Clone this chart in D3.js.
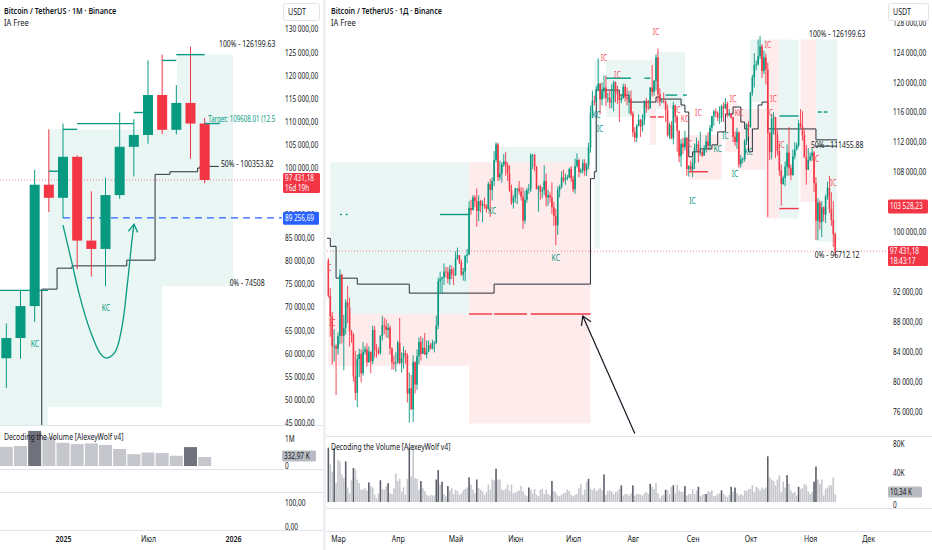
<!DOCTYPE html>
<html>
<head>
<meta charset="utf-8">
<script src="https://cdn.jsdelivr.net/npm/d3@7"></script>
<style>
  body { margin: 0; background: #fff; }
  svg text { font-family: "Noto Sans", "Open Sans", sans-serif; }
</style>
</head>
<body>
<svg id="chart" width="932" height="550"></svg>
<script>
var W = 932, H = 550;
var UP = "#089981", DN = "#f23645", INK = "#131722", GRID = "#e0e3eb";
var UPZONE = "rgba(8,153,129,0.09)", DNZONE = "rgba(242,54,69,0.1)";

// ---------- left chart: BTC/USDT monthly ----------
var monthsL = ["2024-09","2024-10","2024-11","2024-12","2025-01","2025-02","2025-03","2025-04","2025-05","2025-06","2025-07","2025-08","2025-09","2025-10","2025-11"];
var mOpen  = [58970, 63330, 70220, 96410, 93580, 102430, 84350, 82550, 94170, 104590, 107140, 115760, 108250, 114050, 109610];
var mHigh  = [66500, 73620, 99590, 108350, 109590, 102750, 95000, 97900, 111980, 110530, 123220, 124470, 117900, 126200, 110800];
var mLow   = [52550, 58860, 66800, 90500, 89160, 78170, 76600, 74500, 93350, 98200, 105250, 107300, 107270, 102000, 96700];
var mClose = [63330, 70220, 96410, 93580, 102430, 84350, 82550, 94170, 104590, 107140, 115760, 108250, 114050, 109610, 97431.18];
var mVol   = [0.71, 0.74, 1.30, 1.08, 0.86, 0.81, 0.84, 0.78, 0.63, 0.44, 0.50, 0.48, 0.38, 0.70, 0.333]; // millions BTC
var mVolDark = ["2024-11", "2025-10"];

// 95 000 sits under the last-price label, so it is not printed
var priceTicksL = [45000, 50000, 55000, 60000, 65000, 70000, 75000, 80000, 85000, 90000, 100000, 105000, 110000, 115000, 120000, 125000, 130000];
var timeTicksL = ["2025-01", "2025-07", "2026-01"];
var timeLabelsL = ["2025", "Июл", "2026"];

// zones [from month pos, to month pos, top, bottom]
var zonesL = [[-5, -1.06, 73620, 40000], [-1.06, 7, 108350, 48450], [7, 12, 108350, 74508], [8.05, 12, 124470, 108350]];
// previous-high levels [from, to, price]
var levelsL = [[-5, -1.06, 73620], [-1, -0.35, 99310], [0, 1, 108350], [1, 5, 109590], [5, 6, 111980], [7, 8, 123220], [8, 10, 124470], [10, 11, 109608.01]];
// stepped black line [month pos, price]
var stepL = [[-1.5, 30000], [-1.5, 73880], [-0.42, 78400], [0.64, 78900], [4.5, 80130], [6.5, 98640], [7.55, 99200], [9.5, 100000], [9.67, 100353.82], [11, 100353.82]];
// hand-drawn curved arrow [month pos, price]
var arrowL = [[0, 87670], [0.635, 79480], [1.2, 72150], [1.905, 65040], [2.611, 60080], [3.035, 59010], [3.67, 60300], [4.16, 65690], [4.52, 74310], [4.87, 84440], [5.01, 87890]];
var tagsL = [["KC", 3.03, 69784], ["KC", -1.98, 62026]];
var fibL = [[126199.63, "100% - 126199.63"], [100353.82, "50% - 100353.82"], [74508, "0% - 74508"]];
var targetL = [109608.01, "Target: 109608.01 (12.5"]; // cut by the price scale in the reference
var lastL = 97431.18, blueL = 89256.69;

// ---------- right chart: BTC/USDT daily (thousands), from 2025-02-24 ----------
var dayStart = "2025-02-24";
var firstOpen = 96.2;
var dClose = [
  91.5, 88.7, 84.7, 84.7, 84.4,
  86.1, 94.3, 86.1, 87.2, 90.6, 89.9, 86.7, 86.2, 80.7, 78.5, 83.0, 83.7, 81.1, 84.0, 84.3, 82.6, 84.0, 82.7, 86.9, 84.2, 84.1, 83.8, 86.1, 87.5, 87.4, 86.9, 87.2, 84.4, 82.6, 82.4, 82.5,
  85.2, 82.5, 83.1, 83.8, 83.5, 78.4, 79.1, 76.3, 82.6, 79.6, 83.4, 85.3, 83.7, 84.5, 83.6, 84.0, 84.9, 84.4, 85.1, 85.2, 87.5, 93.4, 93.7, 93.9, 94.7, 94.6, 93.7, 95.0, 94.3, 94.2,
  96.5, 96.9, 95.9, 94.3, 94.7, 96.8, 97.0, 103.2, 102.9, 104.6, 104.1, 102.8, 104.1, 103.5, 103.7, 103.5, 103.1, 106.4, 105.6, 106.8, 109.6, 111.7, 107.3, 107.8, 109.0, 109.4, 108.9, 107.8, 105.6, 103.9, 104.6,
  105.8, 105.8, 105.4, 104.7, 101.5, 104.3, 105.6, 105.7, 110.3, 110.3, 108.7, 105.7, 106.1, 105.4, 105.6, 106.8, 104.6, 104.9, 104.6, 103.3, 102.1, 100.9, 105.6, 106.0, 107.3, 106.9, 107.1, 107.3, 108.4, 107.1,
  105.7, 108.8, 109.6, 108.0, 108.2, 109.2, 108.2, 108.9, 111.3, 115.9, 117.5, 117.4, 119.1, 119.8, 117.7, 118.8, 119.3, 117.9, 117.9, 117.3, 117.4, 120.0, 118.8, 118.4, 117.6, 117.9, 119.4, 118.0, 117.8, 117.8, 115.8,
  113.3, 112.6, 114.2, 115.0, 114.1, 115.0, 117.5, 116.6, 116.5, 119.3, 118.7, 120.2, 123.3, 118.4, 117.4, 117.5, 117.4, 116.3, 112.9, 114.3, 112.5, 116.9, 115.4, 113.5, 110.1, 111.8, 111.3, 112.6, 108.4, 108.8, 108.3,
  109.2, 111.3, 111.7, 110.7, 110.7, 110.2, 111.2, 112.1, 111.5, 113.9, 115.5, 116.1, 115.9, 115.3, 115.3, 116.8, 116.5, 117.1, 115.7, 115.7, 115.3, 112.7, 112.0, 113.3, 109.0, 109.7, 109.7, 112.1, 114.4, 114.0,
  118.6, 120.6, 122.3, 122.4, 123.5, 124.8, 121.5, 123.3, 121.7, 113.2, 110.7, 115.1, 115.3, 113.0, 110.8, 108.2, 106.4, 107.2, 108.7, 110.6, 108.5, 107.6, 110.1, 111.0, 111.6, 114.5, 114.1, 112.9, 110.0, 108.3, 109.6,
  110.1, 110.6, 106.5, 101.5, 103.9, 101.3, 103.3, 102.3, 104.7, 105.9, 103.0, 101.6, 99.7, 97.43
];
var dHigh = [
  96.5, 92.5, 89.3, 87.0, 85.0,
  86.6, 95.0, 94.4, 88.9, 91.0, 92.8, 91.2, 86.9, 86.5, 84.1, 83.6, 84.4, 84.3, 85.3, 84.7, 85.1, 84.7, 84.0, 87.5, 87.4, 85.0, 84.6, 86.2, 88.8, 88.5, 88.3, 87.8, 87.5, 84.6, 83.5, 83.9,
  85.5, 88.5, 83.9, 84.7, 84.2, 83.8, 81.2, 80.9, 83.5, 82.7, 84.3, 85.9, 86.1, 85.8, 86.5, 85.5, 85.5, 85.2, 85.6, 85.4, 88.8, 93.9, 94.7, 94.0, 95.8, 95.3, 95.3, 95.6, 95.5, 95.2,
  97.4, 97.9, 96.9, 96.3, 95.2, 96.9, 97.7, 104.1, 104.3, 104.9, 104.9, 105.8, 104.9, 104.3, 104.2, 104.6, 103.7, 106.7, 107.1, 107.3, 110.8, 112.0, 111.9, 109.5, 109.3, 110.4, 110.7, 109.3, 108.9, 106.3, 104.9,
  105.9, 105.9, 106.8, 106.0, 105.9, 105.5, 105.9, 106.4, 110.5, 110.4, 110.4, 108.8, 106.2, 106.3, 106.0, 108.9, 107.8, 105.6, 105.3, 106.6, 104.0, 103.1, 106.1, 106.3, 108.1, 108.3, 107.8, 107.6, 108.6, 108.8,
  107.5, 109.8, 110.5, 109.8, 108.5, 109.7, 109.7, 109.2, 111.9, 116.9, 118.9, 118.2, 119.5, 123.2, 119.9, 120.0, 120.9, 120.9, 118.6, 118.9, 119.7, 120.2, 120.1, 119.5, 118.5, 118.3, 119.8, 119.8, 119.3, 118.8, 118.9,
  116.1, 114.0, 114.4, 115.7, 115.1, 115.7, 117.6, 117.9, 117.6, 119.3, 122.3, 120.3, 123.7, 124.5, 119.2, 117.9, 118.6, 117.6, 117.0, 114.6, 114.8, 117.4, 117.0, 115.6, 113.6, 112.4, 112.6, 113.5, 112.6, 108.9, 109.5,
  109.9, 111.8, 112.6, 112.2, 113.4, 111.0, 111.6, 112.9, 113.3, 114.3, 115.5, 116.3, 116.5, 116.1, 116.8, 117.0, 117.3, 117.9, 117.4, 116.4, 115.9, 115.4, 113.4, 113.9, 113.4, 110.3, 110.0, 112.4, 114.5, 114.8,
  118.7, 121.0, 123.9, 122.9, 125.7, 126.2, 125.1, 124.2, 123.8, 122.6, 113.4, 115.8, 116.0, 115.4, 113.6, 111.8, 109.0, 107.5, 109.4, 111.7, 114.0, 109.0, 111.0, 112.0, 111.9, 115.0, 116.4, 116.1, 113.6, 111.6, 111.2,
  110.6, 111.2, 110.8, 107.3, 104.5, 104.2, 104.1, 103.4, 105.0, 106.7, 107.5, 105.3, 104.1, 99.9
];
var dLow = [
  91.2, 86.0, 82.3, 82.7, 78.2,
  83.6, 85.0, 85.1, 81.5, 86.3, 87.8, 84.7, 85.2, 80.0, 77.5, 76.6, 80.6, 79.9, 80.8, 83.6, 82.0, 82.5, 81.1, 82.3, 83.2, 83.2, 83.6, 83.6, 85.5, 86.3, 85.9, 85.8, 83.6, 81.6, 81.6, 81.3,
  82.4, 82.3, 81.2, 81.7, 82.4, 77.2, 74.5, 76.2, 74.6, 78.4, 78.9, 82.3, 82.8, 83.7, 83.6, 83.1, 83.9, 84.3, 84.3, 83.9, 85.0, 87.0, 91.9, 91.7, 92.9, 93.9, 93.1, 92.9, 93.7, 92.9,
  94.1, 96.3, 95.7, 94.1, 93.5, 93.4, 95.8, 96.9, 102.3, 102.9, 103.3, 100.7, 101.4, 102.6, 101.3, 103.1, 102.6, 103.0, 102.0, 104.2, 106.1, 109.3, 106.8, 106.9, 106.6, 108.7, 107.5, 106.8, 105.3, 103.6, 103.1,
  103.9, 103.7, 105.0, 104.2, 100.4, 101.1, 103.9, 105.1, 105.3, 108.4, 108.1, 105.7, 102.7, 104.3, 104.5, 104.9, 103.4, 103.5, 103.9, 102.4, 100.8, 98.2, 99.6, 104.6, 105.8, 106.6, 106.3, 106.9, 107.2, 106.7,
  105.3, 105.1, 108.6, 107.3, 107.8, 107.8, 107.5, 107.5, 108.4, 110.6, 115.2, 116.9, 117.3, 118.9, 115.7, 116.9, 117.8, 116.8, 117.3, 116.5, 116.5, 116.1, 117.3, 117.1, 114.7, 117.2, 117.8, 117.4, 116.9, 115.8, 115.5,
  112.7, 112.0, 112.0, 114.1, 112.7, 113.4, 114.3, 115.9, 116.3, 116.5, 118.1, 118.2, 118.9, 117.2, 116.8, 117.2, 117.2, 114.7, 112.7, 112.4, 112.4, 111.7, 114.6, 110.7, 109.3, 108.7, 110.4, 110.9, 107.5, 107.4, 108.1,
  107.3, 108.4, 110.8, 109.3, 110.2, 110.0, 110.2, 110.6, 110.9, 110.9, 113.4, 114.2, 115.3, 114.8, 114.4, 114.7, 114.7, 116.4, 115.3, 115.4, 115.1, 112.0, 111.5, 111.1, 108.6, 108.6, 109.2, 109.4, 111.6, 112.7,
  113.9, 118.2, 119.3, 121.6, 122.2, 123.1, 120.6, 121.1, 119.7, 102.0, 109.6, 109.7, 113.0, 109.9, 110.2, 107.5, 103.5, 106.3, 106.1, 107.5, 107.5, 106.9, 107.5, 109.7, 110.9, 111.3, 113.9, 112.2, 109.9, 106.3, 108.3,
  109.4, 109.5, 105.3, 98.9, 98.9, 100.3, 99.3, 101.4, 101.2, 104.3, 102.5, 100.8, 98.0, 96.7
];
var dVol = [ // thousands BTC
  75, 52, 42, 74, 26,
  58, 56, 38, 33, 56, 20, 12, 30, 47, 45, 31, 26, 17, 17, 19, 16, 27, 22, 20, 10, 5, 12, 30, 18, 17, 22, 26, 12, 11, 19, 39,
  29, 32, 14, 20, 10, 32, 75, 35, 78, 33, 32, 17, 29, 19, 15, 10, 8, 10, 9, 9, 31, 44, 24, 28, 11, 8, 22, 16, 19, 11,
  17, 15, 10, 12, 16, 18, 20, 34, 24, 17, 12, 31, 19, 17, 15, 10, 14, 24, 17, 31, 30, 46, 31, 31, 17, 16, 18, 24, 15, 24, 12,
  13, 15, 16, 22, 15, 10, 8, 20, 17, 12, 18, 10, 8, 17, 18, 11, 17, 11, 9, 29, 15, 13, 9, 8, 10, 12, 13, 17, 15, 10,
  8, 10, 11, 19, 25, 10, 17, 28, 32, 18, 16, 19, 15, 17, 20, 16, 38, 10, 15, 16, 15, 11, 14, 15, 18, 23, 9, 11, 11, 9, 12,
  23, 9, 11, 11, 10, 9, 12, 14, 11, 25, 21, 18, 26, 12, 5, 9, 10, 17, 16, 11, 21, 23, 12, 24, 16, 14, 14, 22, 9, 11, 11,
  18, 11, 16, 21, 8, 10, 11, 11, 15, 14, 16, 8, 9, 11, 12, 16, 11, 9, 7, 10, 21, 14, 20, 12, 9, 11, 9, 16, 15, 18,
  18, 23, 14, 21, 19, 16, 20, 18, 20, 63, 34, 31, 29, 23, 31, 37, 14, 28, 20, 37, 25, 16, 12, 14, 9, 21, 18, 19, 25, 23, 15,
  11, 14, 28, 49, 31, 25, 31, 9, 18, 20, 23, 23, 34, 10.34
];
var dVolDark = ["02-24","02-27","03-05","03-09","03-17","03-23","03-27","04-07","04-13","04-21","04-22","04-24","04-27",
  "05-08","05-12","05-22","06-08","06-20","07-09","07-17","07-26","08-01","08-10","08-18","08-22","08-28",
  "09-04","09-08","09-16","09-21","09-23","10-10","10-20","10-26","11-03","11-04"];

// 96 000 and 104 000 sit under the price labels, so they are not printed
var priceTicksR = [76000, 80000, 84000, 88000, 92000, 100000, 108000, 112000, 116000, 120000, 124000, 128000];
var monthsRu = ["Янв","Фев","Мар","Апр","Май","Июн","Июл","Авг","Сен","Окт","Ноя","Дек"];

// zones [from, to, top, bottom, kind]
var zonesR = [
  ["2025-02-25","2025-05-08",109300,89030,"up"], ["2025-02-24","2025-05-08",89030,82110,"dn"],
  ["2025-05-08","2025-07-10",109300,74400,"dn"], ["2025-05-22","2025-07-10",111370,109300,"up"],
  ["2025-07-12","2025-07-15",122940,97800,"up"], ["2025-07-18","2025-08-10",122940,115360,"up"],
  ["2025-08-10","2025-08-13",122940,111630,"dn"], ["2025-08-13","2025-08-28",124000,116420,"up"],
  ["2025-08-30","2025-09-16",112960,106980,"dn"], ["2025-09-18","2025-09-24",117350,110700,"dn"],
  ["2025-09-24","2025-10-09",116420,108310,"dn"], ["2025-10-01","2025-10-09",125700,117350,"up"],
  ["2025-10-09","2025-10-16",125700,101800,"dn"], ["2025-10-16","2025-10-26",125700,101800,"up"],
  ["2025-10-27","2025-11-04",125700,104000,"dn"], ["2025-11-04","2025-11-15",125700,98730,"up"]
];
// level segments [from, to, price, kind]
var levelsR = [
  ["2025-03-02","2025-03-03",102324,"up"], ["2025-03-05","2025-03-06",102324,"up"], ["2025-04-23","2025-05-08",102324,"up"],
  ["2025-07-18","2025-07-31",120540,"up"], ["2025-08-07","2025-08-10",120540,"up"],
  ["2025-08-18","2025-08-24",118280,"up"], ["2025-08-27","2025-08-29",118280,"up"],
  ["2025-10-16","2025-10-26",115490,"up"], ["2025-11-05","2025-11-07",116020,"up"], ["2025-11-08","2025-11-10",116020,"up"],
  ["2025-08-10","2025-08-13",115360,"dn"], ["2025-08-14","2025-08-17",115360,"dn"],
  ["2025-08-30","2025-09-09",108040,"dn"], ["2025-10-16","2025-10-26",103120,"dn"],
  ["2025-05-08","2025-05-20",89030,"dn"], ["2025-05-21","2025-06-07",89030,"dn"], ["2025-06-09","2025-07-10",89030,"dn"]
];
var stepR = [
  ["2025-02-23",99140], ["2025-02-25",98070], ["2025-02-28",93820], ["2025-03-11",93020], ["2025-04-07",91820],
  ["2025-05-21",93020], ["2025-07-10",107110], ["2025-07-12",108040], ["2025-07-13",118950], ["2025-07-25",118280],
  ["2025-07-30",117350], ["2025-08-13",118020], ["2025-08-15",117750], ["2025-08-26",116950], ["2025-08-28",116020],
  ["2025-08-30",110040], ["2025-09-01",110700], ["2025-09-05",111100], ["2025-09-11",111630], ["2025-09-14",113360],
  ["2025-09-18",115750], ["2025-09-22",116690], ["2025-09-26",114690], ["2025-09-28",113760], ["2025-09-30",110700],
  ["2025-10-02",113760], ["2025-10-05",116950], ["2025-10-07",117350], ["2025-10-10",113760], ["2025-11-04",112300],
  ["2025-11-15",112300]
];
var tagsR = [
  ["IC","2025-08-13",126790,"dn"], ["IC","2025-07-17",123200,"dn"], ["IC","2025-07-24",120940,"dn"],
  ["IC","2025-08-24",116290,"dn"], ["KC","2025-08-28",115090,"dn"], ["IC","2025-09-04",115890,"dn"],
  ["IC","2025-08-30",111770,"dn"], ["IC","2025-09-22",117750,"dn"], ["KC","2025-09-25",115890,"dn"],
  ["IC","2025-10-10",124930,"dn"], ["IC","2025-10-13",117750,"dn"], ["IC","2025-10-11",115890,"dn"],
  ["IC","2025-10-17",111630,"dn"], ["IC","2025-11-04",109770,"dn"], ["IC","2025-11-13",106580,"dn"],
  ["IC","2025-02-24",95140,"dn"], ["IC","2025-02-26",87830,"dn"],
  ["KC","2025-07-13",115620,"up"], ["IC","2025-07-15",113760,"up"], ["KC","2025-05-20",102860,"up"],
  ["KC","2025-06-22",96470,"up"], ["KC","2025-09-14",111100,"up"], ["IC","2025-09-18",112830,"up"],
  ["IC","2025-09-23",107780,"up"], ["KC","2025-09-30",110700,"up"], ["IC","2025-09-01",104190,"up"]
];
var arrowR = [["2025-08-02",73070], ["2025-07-06",88760]];
var fibR = [[126199.63, "100% - 126199.63"], [111455.88, "50% - 111455.88"], [96712.12, "0% - 96712.12"]];
var lastR = 97431.18, markR = 103528.23;

// ---------- helpers ----------
var parse = d3.utcParse("%Y-%m-%d");
var fmtP = d3.formatLocale({decimal: ",", thousands: " ", grouping: [3], currency: ["", ""]}).format(",.2f");
var svg = d3.select("#chart");
svg.append("rect").attr("width", W).attr("height", H).attr("fill", "#fff");

function txt(g, x, y, s, o) {
  o = o || {};
  return g.append("text")
    .attr("transform", "translate(" + x + "," + y + ") scale(" + (o.sx || 0.78) + ",1)")
    .attr("font-size", o.size || 9)
    .attr("font-weight", o.weight || 400)
    .attr("fill", o.fill || INK)
    .attr("text-anchor", o.anchor || "start")
    .attr("dy", "0.35em")
    .text(s);
}
function head(g, p0, p1, len, col, w) {
  var a = Math.atan2(p1[1] - p0[1], p1[0] - p0[0]), s = 0.55;
  var pts = [[p1[0] - len * Math.cos(a - s), p1[1] - len * Math.sin(a - s)], p1,
             [p1[0] - len * Math.cos(a + s), p1[1] - len * Math.sin(a + s)]];
  g.append("path").attr("d", d3.line()(pts)).attr("fill", "none").attr("stroke", col).attr("stroke-width", w);
}
function priceBox(x, y, w, h, fill, lines, col) {
  svg.append("rect").attr("x", x).attr("y", y).attr("width", w).attr("height", h).attr("rx", 1.5).attr("fill", fill);
  var step = lines.length > 1 ? h / 2 : h;
  lines.forEach(function(s, i) { txt(svg, x + 2, y + step * (i + 0.5), s, {fill: col, size: 8.2, sx: 0.78}); });
}
function styleAxis(g, sx) {
  g.select(".domain").remove();
  g.selectAll("text").attr("font-size", 8.8).attr("fill", INK).attr("transform", "scale(" + sx + ",1)");
}
function monthPos(s) { var p = s.split("-"); return (+p[0] - 2025) * 12 + (+p[1] - 1); }

var defs = svg.append("defs");
defs.append("clipPath").attr("id", "clipL").append("rect").attr("x", 0).attr("y", 0).attr("width", 282).attr("height", 425);
defs.append("clipPath").attr("id", "clipR").append("rect").attr("x", 327).attr("y", 0).attr("width", 561).attr("height", 436);

// ================= LEFT PANEL =================
var xL = d3.scaleLinear().domain([0, 12]).range([63, 233]);
var yL = d3.scaleLinear().domain([45000, 130000]).range([423, 29]);
var vL = d3.scaleLinear().domain([0, 1e6]).range([466, 439]);
var gL = svg.append("g").attr("clip-path", "url(#clipL)");

gL.selectAll("rect.zone").data(zonesL).join("rect")
  .attr("x", function(d) { return xL(d[0]); }).attr("width", function(d) { return xL(d[1]) - xL(d[0]); })
  .attr("y", function(d) { return yL(d[2]); }).attr("height", function(d) { return yL(d[3]) - yL(d[2]); })
  .attr("fill", UPZONE);

gL.append("line").attr("x1", 0).attr("x2", 282).attr("y1", yL(lastL)).attr("y2", yL(lastL))
  .attr("stroke", DN).attr("stroke-opacity", 0.6).attr("stroke-dasharray", "1,2");
gL.append("line").attr("x1", xL(0)).attr("x2", 282).attr("y1", yL(blueL)).attr("y2", yL(blueL))
  .attr("stroke", "#2962ff").attr("stroke-width", 1.4).attr("stroke-dasharray", "7,5");

gL.append("path").datum(stepL)
  .attr("d", d3.line().x(function(d) { return xL(d[0]); }).y(function(d) { return yL(d[1]); }).curve(d3.curveStepAfter))
  .attr("fill", "none").attr("stroke", "#2a2e39").attr("stroke-width", 1);

var candL = monthsL.map(function(m, i) {
  return {p: monthPos(m), o: mOpen[i], h: mHigh[i], l: mLow[i], c: mClose[i], v: mVol[i] * 1e6, dark: mVolDark.indexOf(m) >= 0};
});
gL.selectAll("line.wick").data(candL).join("line")
  .attr("x1", function(d) { return xL(d.p); }).attr("x2", function(d) { return xL(d.p); })
  .attr("y1", function(d) { return yL(d.h); }).attr("y2", function(d) { return yL(d.l); })
  .attr("stroke", function(d) { return d.c >= d.o ? UP : DN; }).attr("stroke-width", 1);
gL.selectAll("rect.body").data(candL).join("rect")
  .attr("x", function(d) { return xL(d.p) - 5; }).attr("width", 10)
  .attr("y", function(d) { return yL(Math.max(d.o, d.c)); })
  .attr("height", function(d) { return Math.max(1, Math.abs(yL(d.o) - yL(d.c))); })
  .attr("fill", function(d) { return d.c >= d.o ? UP : DN; });

gL.selectAll("line.level").data(levelsL).join("line")
  .attr("x1", function(d) { return xL(d[0]); }).attr("x2", function(d) { return xL(d[1]); })
  .attr("y1", function(d) { return yL(d[2]); }).attr("y2", function(d) { return yL(d[2]); })
  .attr("stroke", UP).attr("stroke-width", 1.4);

var arrPts = arrowL.map(function(d) { return [xL(d[0]), yL(d[1])]; });
gL.append("path").attr("d", d3.line().curve(d3.curveCatmullRom)(arrPts))
  .attr("fill", "none").attr("stroke", UP).attr("stroke-width", 1.3);
head(gL, arrPts[arrPts.length - 2], arrPts[arrPts.length - 1], 9, UP, 1.3);

tagsL.forEach(function(t) { txt(gL, xL(t[1]), yL(t[2]), t[0], {fill: UP, size: 8.8, anchor: "middle"}); });
fibL.forEach(function(f) { txt(gL, xL(13), yL(f[0]) - 3, f[1], {size: 8.8, anchor: "middle"}); });
txt(gL, xL(10.25), yL(targetL[0]) - 5, targetL[1], {fill: UP, size: 8.8, sx: 0.7});

// left volume pane
svg.selectAll("rect.volL").data(candL).join("rect")
  .attr("x", function(d) { return xL(d.p) - 6.5; }).attr("width", 13)
  .attr("y", function(d) { return vL(d.v); }).attr("height", function(d) { return vL(0) - vL(d.v); })
  .attr("fill", function(d) { return d.dark ? "#70727b" : "#c5c7cd"; });
txt(svg, 4, 437, "Decoding the Volume [AlexeyWolf v4]", {size: 9, sx: 0.76});

// pane separators and axes (left)
[425.5, 469.5, 492.5, 530.5].forEach(function(y) {
  svg.append("line").attr("x1", 0).attr("x2", 323).attr("y1", y).attr("y2", y).attr("stroke", GRID);
});
svg.append("g").attr("transform", "translate(285,0)")
  .call(d3.axisRight(yL).tickValues(priceTicksL).tickSize(0).tickPadding(0).tickFormat(fmtP))
  .call(styleAxis, 0.74);
svg.append("g").attr("transform", "translate(285,0)")
  .call(d3.axisRight(vL).tickValues([0, 1e6]).tickSize(0).tickPadding(0).tickFormat(function(d) { return d ? "1M" : "0"; }))
  .call(styleAxis, 0.74);
svg.append("g").attr("transform", "translate(285,0)")
  .call(d3.axisRight(d3.scaleLinear().domain([0, 100]).range([527, 503])).tickValues([0, 100]).tickSize(0).tickPadding(0).tickFormat(fmtP))
  .call(styleAxis, 0.74);
svg.append("g").attr("transform", "translate(0,533)")
  .call(d3.axisBottom(xL).tickValues(timeTicksL.map(monthPos)).tickSize(0).tickPadding(3)
    .tickFormat(function(d, i) { return timeLabelsL[i]; }))
  .call(styleAxis, 0.8)
  .selectAll("text").attr("font-weight", function(d, i) { return timeLabelsL[i].length === 4 ? 600 : 400; });

priceBox(283, yL(lastL) - 7, 37, 20, DN, [fmtP(lastL), "16d 19h"], "#fff");
priceBox(283, yL(blueL) - 6, 36, 13, "#2962ff", [fmtP(blueL)], "#fff");
priceBox(282, vL(332970) - 6.5, 34, 11, "#b8bbc2", ["332,97 K"], INK);
svg.append("rect").attr("x", 283.5).attr("y", 3.5).attr("width", 36).attr("height", 17).attr("rx", 2)
  .attr("fill", "#fff").attr("stroke", GRID);
txt(svg, 288, 12, "USDT", {size: 8.8, sx: 0.8});

txt(svg, 4, 11, "Bitcoin / TetherUS · 1M · Binance", {size: 9.4, weight: 600, sx: 0.76});
txt(svg, 4, 23, "IA Free", {size: 9.4, sx: 0.8});

// panel separator
svg.append("rect").attr("x", 323).attr("y", 0).attr("width", 3).attr("height", H).attr("fill", "#eef0f4");

// ================= RIGHT PANEL =================
var xR = d3.scaleUtc().domain([parse("2025-03-01"), parse("2025-12-01")]).range([338, 868]);
var yR = d3.scaleLinear().domain([76000, 124000]).range([411.5, 52.3]);
var vR = d3.scaleLinear().domain([0, 80000]).range([502, 444]);
var gR = svg.append("g").attr("clip-path", "url(#clipR)");
function xd(s) { return xR(parse(s)); }

gR.selectAll("rect.zone").data(zonesR).join("rect")
  .attr("x", function(d) { return xd(d[0]); }).attr("width", function(d) { return xd(d[1]) - xd(d[0]); })
  .attr("y", function(d) { return yR(d[2]); }).attr("height", function(d) { return yR(d[3]) - yR(d[2]); })
  .attr("fill", function(d) { return d[4] === "up" ? UPZONE : DNZONE; });

gR.append("line").attr("x1", 327).attr("x2", 888).attr("y1", yR(lastR)).attr("y2", yR(lastR))
  .attr("stroke", DN).attr("stroke-opacity", 0.6).attr("stroke-dasharray", "1,2");

gR.append("path").datum(stepR)
  .attr("d", d3.line().x(function(d) { return xd(d[0]); }).y(function(d) { return yR(d[1]); }).curve(d3.curveStepAfter))
  .attr("fill", "none").attr("stroke", "#2a2e39").attr("stroke-width", 1);

var start = parse(dayStart);
var darkSet = new Set(dVolDark);
var daily = dClose.map(function(c, i) {
  var o = i ? dClose[i - 1] : firstOpen, date = d3.utcDay.offset(start, i);
  return {date: date, o: o * 1000, c: c * 1000,
          h: Math.max(dHigh[i], o, c) * 1000, l: Math.min(dLow[i], o, c) * 1000,
          v: dVol[i] * 1000, dark: darkSet.has(d3.utcFormat("%m-%d")(date))};
});
gR.selectAll("line.wick").data(daily).join("line")
  .attr("x1", function(d) { return xR(d.date); }).attr("x2", function(d) { return xR(d.date); })
  .attr("y1", function(d) { return yR(d.h); }).attr("y2", function(d) { return yR(d.l); })
  .attr("stroke", function(d) { return d.c >= d.o ? UP : DN; }).attr("stroke-width", 0.9);
gR.selectAll("rect.body").data(daily).join("rect")
  .attr("x", function(d) { return xR(d.date) - 0.8; }).attr("width", 1.6)
  .attr("y", function(d) { return yR(Math.max(d.o, d.c)); })
  .attr("height", function(d) { return Math.max(0.8, Math.abs(yR(d.o) - yR(d.c))); })
  .attr("fill", function(d) { return d.c >= d.o ? UP : DN; });

gR.selectAll("line.level").data(levelsR).join("line")
  .attr("x1", function(d) { return xd(d[0]); }).attr("x2", function(d) { return xd(d[1]); })
  .attr("y1", function(d) { return yR(d[2]); }).attr("y2", function(d) { return yR(d[2]); })
  .attr("stroke", function(d) { return d[3] === "up" ? UP : DN; }).attr("stroke-width", 1.4);

gR.append("line").attr("x1", xd("2025-11-04")).attr("x2", xd("2025-11-15"))
  .attr("y1", yR(111455.88)).attr("y2", yR(111455.88)).attr("stroke", "#2a2e39");

tagsR.forEach(function(t) {
  txt(gR, xd(t[1]), yR(t[2]), t[0], {fill: t[3] === "up" ? UP : "#f7525f", size: 8.8, anchor: "middle"});
});
fibR.forEach(function(f) { txt(gR, xd("2025-11-15"), yR(f[0]) - 1.5, f[1], {size: 8.8, anchor: "middle"}); });

var arR = arrowR.map(function(d) { return [xd(d[0]), yR(d[1])]; });
svg.append("path").attr("d", d3.line()(arR)).attr("fill", "none").attr("stroke", INK).attr("stroke-width", 1.2);
head(svg, arR[0], arR[1], 10, INK, 1.2);

// right volume pane
svg.selectAll("rect.volR").data(daily).join("rect")
  .attr("x", function(d) { return xR(d.date) - 0.8; }).attr("width", 1.6)
  .attr("y", function(d) { return vR(d.v); }).attr("height", function(d) { return vR(0) - vR(d.v); })
  .attr("fill", function(d) { return d.dark ? "#5d606b" : "#c5c7cd"; });
txt(svg, 331, 447, "Decoding the Volume [AlexeyWolf v4]", {size: 9, sx: 0.76});

[436.5, 508.5, 531.5].forEach(function(y) {
  svg.append("line").attr("x1", 326).attr("x2", W).attr("y1", y).attr("y2", y).attr("stroke", GRID);
});
svg.append("g").attr("transform", "translate(893,0)")
  .call(d3.axisRight(yR).tickValues(priceTicksR).tickSize(0).tickPadding(0).tickFormat(fmtP))
  .call(styleAxis, 0.74);
svg.append("g").attr("transform", "translate(893,0)")
  .call(d3.axisRight(vR).tickValues([0, 40000, 80000]).tickSize(0).tickPadding(0)
    .tickFormat(function(d) { return d ? d / 1000 + "K" : "0"; }))
  .call(styleAxis, 0.74)
  .selectAll("text").attr("dy", function(d) { return d ? "0.32em" : "0.6em"; });
svg.append("g").attr("transform", "translate(0,533)")
  .call(d3.axisBottom(xR).tickValues(d3.utcMonths(parse("2025-03-01"), parse("2025-12-02"))).tickSize(0).tickPadding(3)
    .tickFormat(function(d) { return monthsRu[d.getUTCMonth()]; }))
  .call(styleAxis, 0.8);

priceBox(888, yR(markR) - 6, 40, 14, DN, [fmtP(markR)], "#fff");
priceBox(888, yR(lastR) - 5, 40, 20, DN, [fmtP(lastR), "18:43:17"], "#fff");
priceBox(888, vR(10340) - 8, 34, 11, "#b8bbc2", ["10,34 K"], INK);
svg.append("rect").attr("x", 888.5).attr("y", 3.5).attr("width", 40).attr("height", 17).attr("rx", 2)
  .attr("fill", "#fff").attr("stroke", GRID);
txt(svg, 893, 12, "USDT", {size: 8.8, sx: 0.8});

txt(svg, 331, 11, "Bitcoin / TetherUS · 1Д · Binance", {size: 9.4, weight: 600, sx: 0.76});
txt(svg, 331, 23, "IA Free", {size: 9.4, sx: 0.8});
</script>
</body>
</html>
